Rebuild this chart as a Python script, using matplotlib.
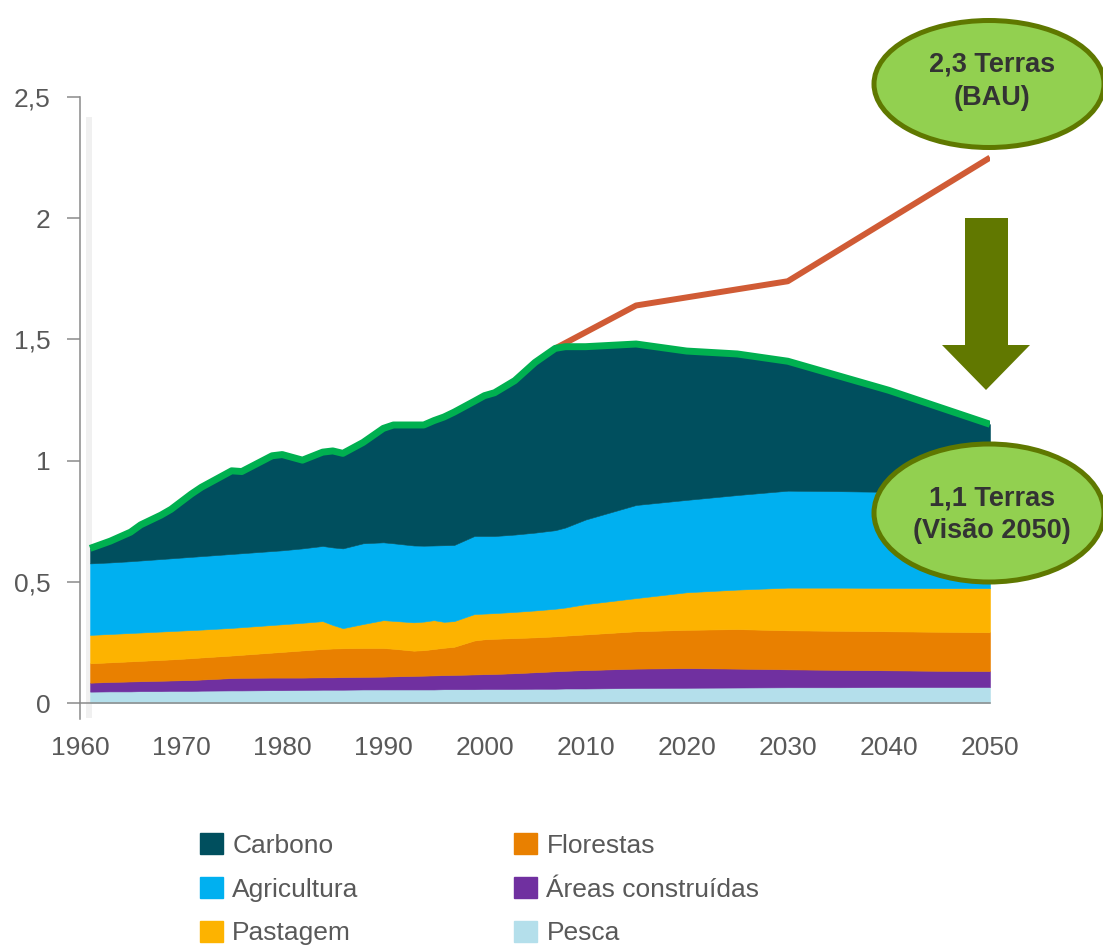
import numpy as np
import matplotlib
matplotlib.use('Agg')
import matplotlib.pyplot as plt
from matplotlib.patches import Ellipse, Polygon, Patch, Rectangle

plt.rcParams['font.family'] = ['Liberation Sans', 'DejaVu Sans']

W, H = 1103, 948

# pegada ecologica por componente (numero de planetas Terra)
years = [1961, 1963, 1965, 1966, 1968, 1969, 1971, 1972, 1975, 1976,
         1979, 1980, 1982, 1984, 1985, 1986, 1988, 1990, 1991, 1993,
         1994, 1995, 1996, 1997, 1999, 2000, 2001, 2003, 2005, 2007,
         2008, 2010, 2015, 2020, 2025, 2030, 2035, 2040, 2045, 2050]
pesca = [.047, .048, .048, .049, .049, .050, .050, .051, .052, .052,
         .053, .053, .054, .055, .055, .055, .056, .056, .056, .056,
         .056, .056, .057, .057, .057, .058, .058, .058, .059, .059,
         .060, .060, .062, .063, .064, .065, .065, .066, .066, .066]
construidas = [.037, .039, .041, .041, .043, .043, .045, .046, .051, .052,
               .052, .052, .051, .051, .051, .052, .052, .053, .054, .056,
               .057, .058, .058, .059, .061, .061, .062, .065, .068, .072,
               .073, .076, .080, .081, .078, .074, .072, .069, .067, .066]
florestas = [.080, .081, .083, .084, .086, .087, .090, .091, .093, .095,
             .103, .106, .112, .117, .119, .119, .119, .118, .114, .104,
             .105, .109, .113, .116, .140, .144, .145, .145, .144, .144,
             .145, .147, .154, .158, .163, .161, .161, .161, .161, .160]
pastagem = [.117, .117, .117, .117, .117, .117, .116, .115, .114, .114,
            .114, .114, .114, .115, .097, .083, .099, .115, .115, .117,
            .118, .119, .107, .106, .109, .106, .106, .108, .111, .114,
            .116, .125, .137, .155, .163, .176, .178, .179, .180, .182]
agricultura = [.295, .295, .296, .297, .299, .300, .302, .303, .305, .305,
               .305, .305, .307, .310, .320, .329, .333, .321, .320, .317,
               .313, .308, .316, .314, .322, .320, .318, .319, .321, .324,
               .330, .349, .384, .381, .390, .400, .398, .396, .396, .396]
carbono = [.062, .088, .120, .147, .181, .202, .259, .284, .343, .337,
           .393, .395, .364, .387, .398, .392, .416, .470, .488, .497,
           .498, .515, .529, .548, .556, .579, .591, .635, .702, .750,
           .746, .713, .664, .614, .582, .534, .476, .419, .350, .280]

bau_years = [2007, 2015, 2030, 2050]
bau = [1.463, 1.64, 1.74, 2.25]

labels = ['Carbono', 'Agricultura', 'Pastagem',
          'Florestas', 'Áreas construídas', 'Pesca']
yticks = [0, 0.5, 1, 1.5, 2, 2.5]
ytick_labels = ['0', '0,5', '1', '1,5', '2', '2,5']
xticks = list(range(1960, 2051, 10))

c_carb = '#004f5e'
c_agri = '#00b0f0'
c_past = '#fdb300'
c_flor = '#e98000'
c_cons = '#7030a0'
c_pesc = '#b4dfeb'
gray = '#595959'

fig = plt.figure(figsize=(W / 100, H / 100), dpi=100)
ax = fig.add_axes([80 / W, (H - 718.8) / H, 910 / W, 621.8 / H])

layers = [pesca, construidas, florestas, pastagem, agricultura, carbono]
cols = [c_pesc, c_cons, c_flor, c_past, c_agri, c_carb]
ax.stackplot(years, *layers, colors=cols, edgecolor='face', linewidth=0.4, zorder=1)

total = np.sum(np.array(layers), axis=0)
ax.plot(bau_years, bau, color='#d05b35', lw=4.3, solid_capstyle='butt', zorder=2)
ax.plot(years, total, color='#00b050', lw=5, solid_capstyle='butt', zorder=3)

# faixa cinza a esquerda
ax.add_patch(Rectangle((1960.6, -0.062), 0.6, 2.48, color='#f0f0f0',
                       lw=0, clip_on=False, zorder=0.5))

ax.set_xlim(1960, 2050)
ax.set_ylim(-0.065, 2.5)
for s in ['top', 'right']:
    ax.spines[s].set_visible(False)
ax.spines['bottom'].set_position(('data', 0))
ax.spines['left'].set_bounds(-0.065, 2.5)
for s in ['left', 'bottom']:
    ax.spines[s].set_color('#8a8a8a')
    ax.spines[s].set_linewidth(1.1)

ax.set_yticks(yticks)
ax.set_yticklabels(ytick_labels)
ax.set_xticks(xticks)
ax.tick_params(axis='y', length=9.4, width=1.1, color='#8a8a8a', pad=12,
               labelsize=19, labelcolor=gray)
ax.tick_params(axis='x', length=0, pad=24, labelsize=19, labelcolor=gray)

# legenda
handles = [Patch(color=c) for c in [c_carb, c_agri, c_past, c_flor, c_cons, c_pesc]]
leg = fig.legend(handles, labels, ncol=2, loc='upper left',
                 bbox_to_anchor=(200 / W, 1 - 833 / H), frameon=False,
                 fontsize=19, handlelength=0.87, handleheight=0.87,
                 handletextpad=0.35, columnspacing=5.9, labelspacing=0.72,
                 borderpad=0, borderaxespad=0)
for t in leg.get_texts():
    t.set_color(gray)

# seta
arrow_px = [(965, 218), (1008, 218), (1008, 345), (1030, 345),
            (986, 390), (942, 345), (965, 345)]
fig.add_artist(Polygon([(x / W, 1 - y / H) for x, y in arrow_px],
                       closed=True, color='#617800', lw=0,
                       transform=fig.transFigure))

# elipses
for cy, h in [(84, 127), (513, 138)]:
    fig.add_artist(Ellipse((989 / W, 1 - cy / H), 230 / W, h / H,
                           facecolor='#92d050', edgecolor='#5f7800', lw=3.6,
                           transform=fig.transFigure))

txt = dict(ha='center', va='center', fontsize=19.5, fontweight='bold',
           color='#333333')
fig.text(992 / W, 1 - 64 / H, '2,3 Terras', **txt)
fig.text(992 / W, 1 - 98 / H, '(BAU)', **txt)
fig.text(992 / W, 1 - 499 / H, '1,1 Terras', **txt)
fig.text(992 / W, 1 - 531 / H, '(Visão 2050)', **txt)

fig.savefig('out.png', dpi=100)
